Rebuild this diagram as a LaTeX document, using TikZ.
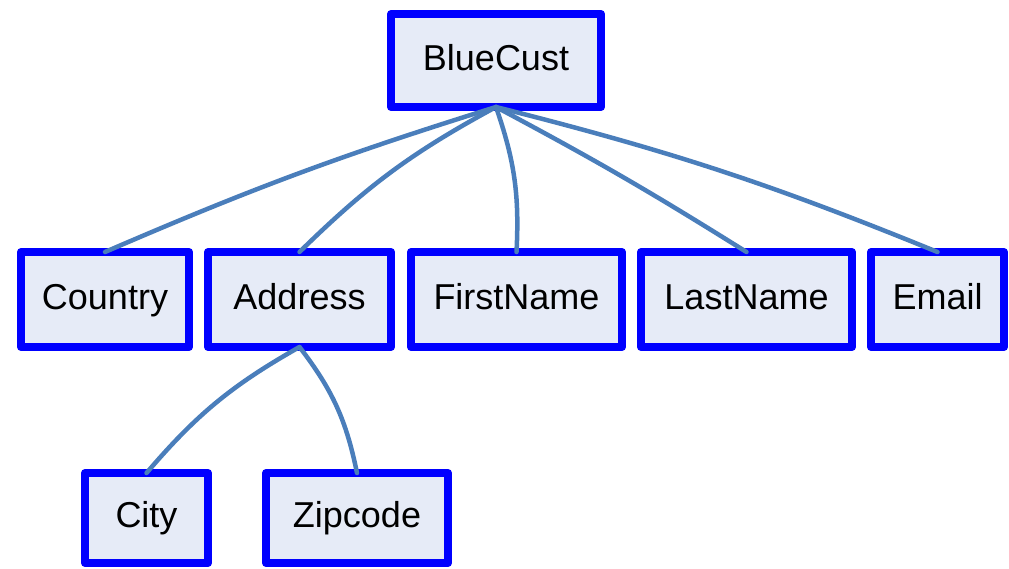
\documentclass[tikz,border=0pt]{standalone}
\usepackage{fontspec}
\setmainfont{Liberation Sans}
\definecolor{boxborder}{RGB}{0,0,255}
\definecolor{boxfill}{RGB}{230,235,247}
\definecolor{edgeblue}{RGB}{74,126,187}
\tikzset{
  entity/.style={draw=boxborder, fill=boxfill, line width=8pt, line join=round,
    rectangle, inner sep=0pt, outer sep=0pt, minimum height=95pt,
    text height=26pt, text depth=7pt,
    font=\fontsize{36}{40}\selectfont},
  link/.style={draw=edgeblue, line width=4.5pt, line cap=round}
}
\begin{document}
\begin{tikzpicture}[x=1pt,y=-1pt]
  \useasboundingbox (0,0) rectangle (1009,568);
  % entities
  \node[entity, minimum width=210pt, minimum height=93pt] (root) at (496,60.5) {BlueCust};
  \node[entity, minimum width=168pt] (country) at (105,299.5) {Country};
  \node[entity, minimum width=183pt] (address) at (299.5,299.5) {Address};
  \node[entity, minimum width=211pt] (first) at (516.5,299.5) {FirstName};
  \node[entity, minimum width=211pt] (last) at (746.5,299.5) {LastName};
  \node[entity, minimum width=133pt] (email) at (937.5,299.5) {Email};
  \node[entity, minimum width=123pt, minimum height=90pt] (city) at (146.5,518) {City};
  \node[entity, minimum width=182pt, minimum height=90pt] (zip) at (357,518) {Zipcode};
  % connectors
  \draw[link] (country.north) to[bend left=3] (root.south);
  \draw[link] (address.north) to[bend left=8] (root.south);
  \draw[link] (first.north) to[bend right=11] (root.south);
  \draw[link] (last.north) to[bend right=2] (root.south);
  \draw[link] (email.north) to[bend right=4] (root.south);
  \draw[link] (city.north) to[bend left=10] (address.south);
  \draw[link] (zip.north) to[bend right=13] (address.south);
\end{tikzpicture}
\end{document}
